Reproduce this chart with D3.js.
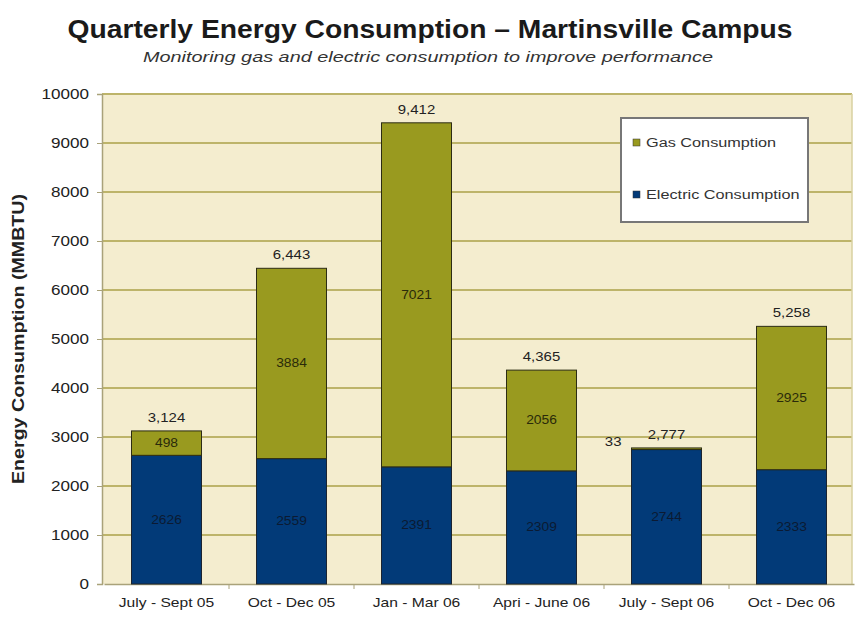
<!DOCTYPE html>
<html><head><meta charset="utf-8">
<script src="https://cdn.jsdelivr.net/npm/d3@7"></script>
<style>body{margin:0;background:#fff}svg{display:block}</style>
</head><body>
<svg id="chart" width="859" height="620"></svg>
<script>
const categories = ["July - Sept 05","Oct - Dec 05","Jan - Mar 06","Apri - June 06","July - Sept 06","Oct - Dec 06"];
const electric = [2626, 2559, 2391, 2309, 2744, 2333];
const gas = [498, 3884, 7021, 2056, 33, 2925];
const yTicks = [0,1000,2000,3000,4000,5000,6000,7000,8000,9000,10000];
const seriesNames = ["Gas Consumption","Electric Consumption"];

const svg = d3.select("#chart");
const m = {l:102, r:852, t:94, b:584};
const x = d3.scaleBand().domain(categories).range([m.l+2, m.r+2]).paddingInner(0.44).paddingOuter(0.22);
const y = d3.scaleLinear().domain([0,10000]).range([m.b, m.t]);
const cElec = "#023a78", cGas = "#999a1f", font = "Arial, 'Liberation Sans', sans-serif";

function stretch(sel, f) {
  sel.each(function(){ const L = this.getComputedTextLength(); this.setAttribute("textLength", L*f); this.setAttribute("lengthAdjust","spacingAndGlyphs"); });
}

svg.append("rect").attr("x", m.l).attr("y", m.t).attr("width", m.r-m.l).attr("height", m.b-m.t).attr("fill", "#f4edcf");
svg.append("g").selectAll("line").data(yTicks.filter(d=>d>0)).join("line")
  .attr("x1", m.l).attr("x2", m.r).attr("y1", d=>y(d)).attr("y2", d=>y(d))
  .attr("stroke", "#bdb46a").attr("stroke-width", 2);
svg.append("line").attr("x1", m.r).attr("x2", m.r).attr("y1", m.t).attr("y2", m.b).attr("stroke","#d8d0a0").attr("stroke-width",1.5);

const yAxis = svg.append("g").attr("transform", `translate(${m.l},0)`)
  .call(d3.axisLeft(y).tickValues(yTicks).tickSize(5).tickPadding(8).tickFormat(d3.format("d")));
yAxis.select(".domain").attr("stroke", "#a9a27a").attr("stroke-width", 1.5);
yAxis.selectAll(".tick line").attr("stroke", "#a9a27a");
yAxis.selectAll("text").attr("font-family", font).attr("font-size", 14).attr("fill", "#222");
stretch(yAxis.selectAll("text"), 1.22);

const xAxis = svg.append("g").attr("transform", `translate(0,${m.b})`)
  .call(d3.axisBottom(x).tickSize(0).tickPadding(14));
xAxis.select(".domain").attr("stroke", "#a9a27a").attr("stroke-width", 1.5);
xAxis.selectAll("text").attr("font-family", font).attr("font-size", 13).attr("fill", "#222");
stretch(xAxis.selectAll("text"), 1.2);
const step = x.step();
svg.append("g").selectAll("line").data(categories.slice(1)).join("line")
  .attr("x1", d=>x(d)-x.paddingInner()*step/2).attr("x2", d=>x(d)-x.paddingInner()*step/2)
  .attr("y1", m.b).attr("y2", m.b+5).attr("stroke", "#a9a27a");

const g = svg.append("g");
categories.forEach((c,i)=>{
  const e = electric[i], gv = gas[i], tot = e+gv;
  g.append("rect").attr("x", x(c)).attr("width", x.bandwidth()).attr("y", y(e)).attr("height", y(0)-y(e))
    .attr("fill", cElec).attr("stroke", "#1c2430").attr("stroke-width", 1);
  g.append("rect").attr("x", x(c)).attr("width", x.bandwidth()).attr("y", y(tot)).attr("height", y(e)-y(tot))
    .attr("fill", cGas).attr("stroke", "#2c2c14").attr("stroke-width", 1);
  const cx = x(c)+x.bandwidth()/2;
  stretch(g.append("text").attr("x", cx).attr("y", (y(0)+y(e))/2+4).attr("text-anchor","middle")
    .attr("font-family", font).attr("font-size", 12).attr("fill", "#0b1a33").text(e), 1.15);
  if (gv > 200) {
    stretch(g.append("text").attr("x", cx).attr("y", (y(e)+y(tot))/2+4).attr("text-anchor","middle")
      .attr("font-family", font).attr("font-size", 12).attr("fill", "#2a2a0a").text(gv), 1.15);
  } else {
    stretch(g.append("text").attr("x", x(c)-10).attr("y", y(tot)-2).attr("text-anchor","end")
      .attr("font-family", font).attr("font-size", 13).attr("fill", "#222").text(gv), 1.15);
  }
  stretch(g.append("text").attr("x", cx).attr("y", y(tot)-9).attr("text-anchor","middle")
    .attr("font-family", font).attr("font-size", 13).attr("fill", "#222").text(d3.format(",")(tot)), 1.15);
});

// legend
const lg = svg.append("g").attr("transform","translate(621,118)");
lg.append("rect").attr("width", 187).attr("height", 104).attr("fill","#fff").attr("stroke","#777").attr("stroke-width",2);
const lcol = [cGas, cElec];
seriesNames.forEach((n,i)=>{
  const yy = 26 + i*52;
  lg.append("rect").attr("x", 12).attr("y", yy-5).attr("width", 7).attr("height", 7).attr("fill", lcol[i]).attr("stroke","#333").attr("stroke-width",0.5);
  stretch(lg.append("text").attr("x", 25).attr("y", yy+3).attr("font-family", font).attr("font-size", 12.5).attr("fill","#333").text(n), 1.3);
});

svg.append("text").attr("x", 430).attr("y", 38).attr("text-anchor","middle").attr("font-family", font)
  .attr("font-weight","bold").attr("font-size", 25).attr("fill","#1a1a1a")
  .attr("textLength", 725).attr("lengthAdjust","spacingAndGlyphs")
  .text("Quarterly Energy Consumption \u2013 Martinsville Campus");
svg.append("text").attr("x", 428).attr("y", 62).attr("text-anchor","middle").attr("font-family", font)
  .attr("font-style","italic").attr("font-size", 15).attr("fill","#333")
  .attr("textLength", 570).attr("lengthAdjust","spacingAndGlyphs")
  .text("Monitoring gas and electric consumption to improve performance");
svg.append("text").attr("transform","translate(24,339) rotate(-90)").attr("text-anchor","middle").attr("font-family", font)
  .attr("font-weight","bold").attr("font-size", 16).attr("fill","#222")
  .attr("textLength", 290).attr("lengthAdjust","spacingAndGlyphs")
  .text("Energy Consumption (MMBTU)");
</script>
</body></html>
